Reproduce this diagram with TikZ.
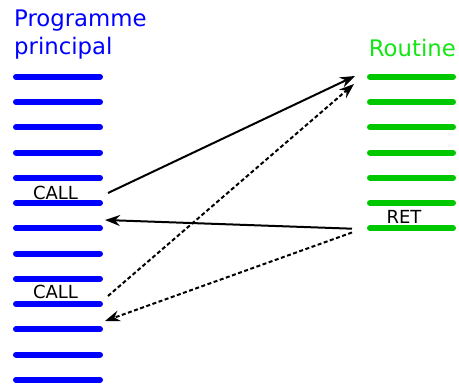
\documentclass[tikz,border=0pt]{standalone}
\usepackage{fontspec}
\setmainfont{DejaVu Sans}
\usetikzlibrary{arrows.meta}

\definecolor{progblue}{RGB}{0,0,255}
\definecolor{routbar}{RGB}{0,200,0}
\definecolor{routtext}{RGB}{20,230,20}

\tikzset{
  instr/.style={line width=6pt, line cap=round},
  call/.style={-{Stealth[length=15pt, width=11pt, inset=5pt]}, line width=2pt},
  back/.style={call, dash pattern=on 4pt off 2.5pt},
  label/.style={inner sep=0pt, font=\fontsize{18}{18}\selectfont},
  title/.style={inner sep=0pt, font=\fontsize{22.8}{28}\selectfont},
}

\begin{document}
\begin{tikzpicture}[x=1pt, y=-1pt]
\useasboundingbox (0,0) rectangle (459,385);

% titles
\node [title, anchor=base west, text=progblue] (prog-1) at (14,27) {Programme};
\node [title, anchor=base west, text=progblue] (prog-2) at (14,55) {principal};
\node [title, anchor=base east, text=routtext] (rout) at (456,57) {Routine};

% main program instructions
\foreach \i in {0,...,12}
  \draw [instr, progblue] (16,76.8+\i*25.25) -- (100,76.8+\i*25.25)
    coordinate [pos=1] (p-\i);

% routine instructions
\foreach \i in {0,...,6}
  \draw [instr, routbar] (370,76.8+\i*25.25) -- (453,76.8+\i*25.25)
    coordinate [pos=0] (r-\i);

\node [label, anchor=base] (call-1) at (55.5,199.3) {CALL};
\node [label, anchor=base] (call-2) at (55.5,299) {CALL};
\node [label, anchor=base] (ret) at (404,223.3) {RET};

% jumps
\coordinate (c1-out) at (108,193);
\coordinate (c2-out) at (108,296);
\coordinate (r-in1) at (355,76);
\coordinate (r-in2) at (354,84);
\coordinate (ret-out1) at (352,228.7);
\coordinate (ret-out2) at (352,232.5);
\coordinate (back-1) at (105,220);
\coordinate (back-2) at (105,321);

\draw [call] (c1-out) -- (r-in1);
\draw [back] (c2-out) -- (r-in2);
\draw [call] (ret-out1) -- (back-1);
\draw [back] (ret-out2) -- (back-2);

\end{tikzpicture}
\end{document}
